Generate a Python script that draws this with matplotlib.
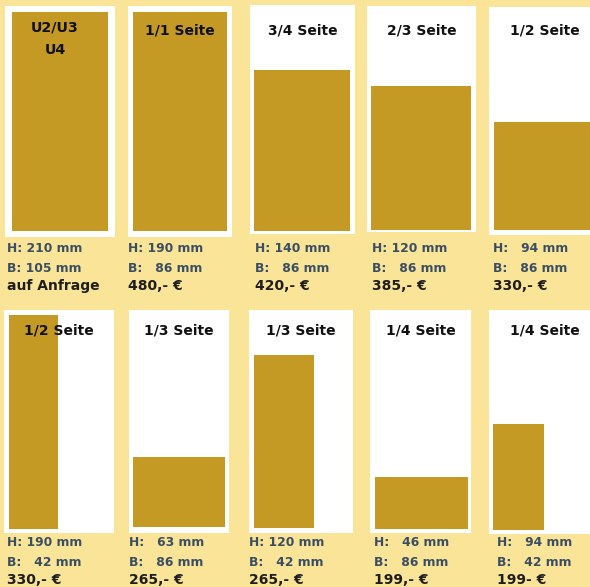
import matplotlib
matplotlib.use("Agg")
import matplotlib.pyplot as plt
from matplotlib.patches import Rectangle

# ---- data ----
titles = ["U2/U3\nU4", "1/1 Seite", "3/4 Seite", "2/3 Seite", "1/2 Seite",
          "1/2 Seite", "1/3 Seite", "1/3 Seite", "1/4 Seite", "1/4 Seite"]
height_mm = [210, 190, 140, 120, 94, 190, 63, 120, 46, 94]
width_mm = [105, 86, 86, 86, 86, 42, 86, 42, 86, 42]
prices = ["auf Anfrage", "480,- €", "420,- €", "385,- €", "330,- €",
          "330,- €", "265,- €", "265,- €", "199,- €", "199- €"]

# ---- layout (pixels, y from top) ----
W, H = 590, 587
card_boxes = [(5, 6, 115, 237), (128, 6, 232, 237), (250, 5, 355, 234), (367, 6, 476, 232), (489, 7, 600, 235),
              (4, 310, 114, 533), (129, 310, 229, 533), (249, 310, 353, 533), (370, 310, 471, 533), (489, 310, 600, 534)]
inner_boxes = [(12, 12, 108, 231), (133, 12, 227, 231), (254, 12, 350, 231), (371, 12, 471, 230), (494, 12, 590, 230),
               (9, 315, 109, 529), (133, 315, 225, 527), (254, 315, 349, 528), (375, 315, 468, 529), (493, 315, 598, 530)]
page_ref = [(105, 210), (86, 190), (86, 190), (86, 182), (86, 190),
            (86, 190), (86, 190), (67, 148), (86, 190), (86, 190)]
text_x = [7, 128, 255, 372, 493, 7, 129, 249, 374, 497]
row_y = [(30, 248, 268, 286), (331, 543, 563, 580)]

BG = "#F9E498"
GOLD = "#C49A24"
INFO = "#3A4E63"
PRICE = "#1E1E1E"
FONT = "DejaVu Sans"

fig = plt.figure(figsize=(W / 100, H / 100), dpi=100)
fig.patch.set_facecolor(BG)


def fx(x):
    return x / W


def fy(y):
    return 1 - y / H


def pad_num(v):
    s = str(v)
    return "\u2007" * (3 - len(s)) + s


for i in range(len(titles)):
    x0, y0, x1, y1 = card_boxes[i]
    fig.add_artist(Rectangle((fx(x0), fy(y1)), (x1 - x0) / W, (y1 - y0) / H,
                             transform=fig.transFigure, facecolor="white",
                             edgecolor="none", zorder=-1))
    l, t, r, b = inner_boxes[i]
    ax = fig.add_axes([fx(l), fy(b), (r - l) / W, (b - t) / H])
    ax.set_xlim(0, page_ref[i][0])
    ax.set_ylim(0, page_ref[i][1])
    ax.axis("off")
    ax.patch.set_alpha(0)
    ax.bar(0, height_mm[i], width=width_mm[i], align="edge", color=GOLD, linewidth=0)

    ty, hy, by, py = row_y[0] if i < 5 else row_y[1]
    cx = (x0 + x1) / 2
    if "\n" in titles[i]:
        cx = 55
        fig.text(fx(cx), fy(38.5), titles[i], ha="center", va="center", fontsize=10.3,
                 fontweight="bold", family=FONT, color="#111111", linespacing=1.75, zorder=5)
    else:
        fig.text(fx(cx), fy(ty), titles[i], ha="center", va="center", fontsize=10,
                 fontweight="bold", family=FONT, color="#111111", zorder=5)
    tx = text_x[i]
    fig.text(fx(tx), fy(hy), "H: " + pad_num(height_mm[i]) + " mm", ha="left", va="center",
             fontsize=8.9, fontweight="bold", family=FONT, color=INFO)
    fig.text(fx(tx), fy(by), "B: " + pad_num(width_mm[i]) + " mm", ha="left", va="center",
             fontsize=8.9, fontweight="bold", family=FONT, color=INFO)
    fig.text(fx(tx), fy(py), prices[i], ha="left", va="center",
             fontsize=10, fontweight="bold", family=FONT, color=PRICE)

fig.savefig("out.png", dpi=100, facecolor=BG)
